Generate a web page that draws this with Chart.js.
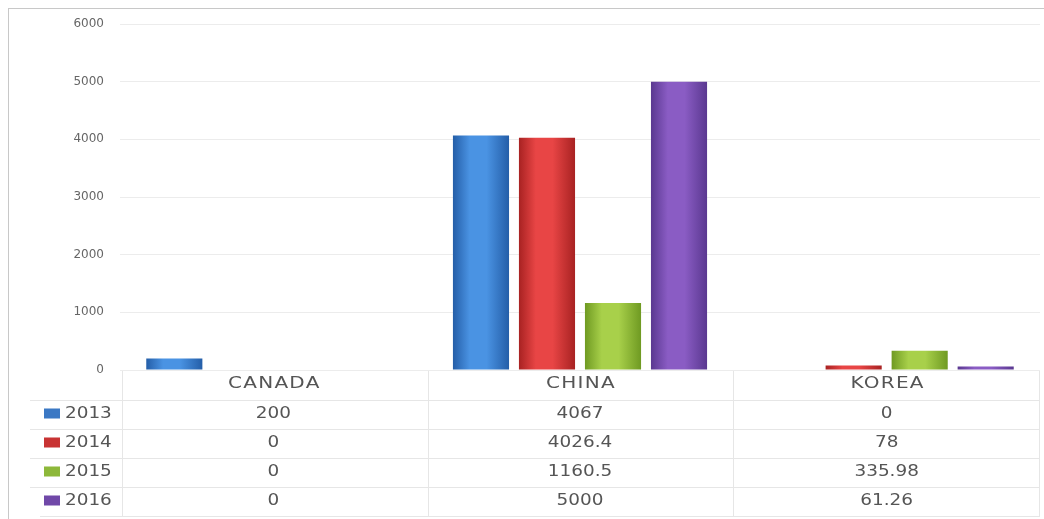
<!DOCTYPE html>
<html><head><meta charset="utf-8">
<script src="https://cdn.jsdelivr.net/npm/chart.js@4.4.0/dist/chart.umd.min.js"></script>
<style>html,body{margin:0;padding:0;background:#fff;}#wrap{width:1044px;height:519px;position:relative;}</style>
</head><body><div id="wrap"><canvas id="c" width="1044" height="519"></canvas></div>
<script>
const categories = ['CANADA', 'CHINA', 'KOREA'];
const seriesNames = ['2013', '2014', '2015', '2016'];
const v2013 = [200, 4067, 0];
const v2014 = [0, 4026.4, 78];
const v2015 = [0, 1160.5, 335.98];
const v2016 = [0, 5000, 61.26];
const tableText = [['200', '4067', '0'], ['0', '4026.4', '78'], ['0', '1160.5', '335.98'], ['0', '5000', '61.26']];
const seriesValues = [v2013, v2014, v2015, v2016];
const colors = [
  {mid: '#4a93e3', edge: '#245ea8', key: '#3b78c4'},
  {mid: '#e84545', edge: '#a82222', key: '#c83333'},
  {mid: '#a8d04a', edge: '#6f9a22', key: '#8db83a'},
  {mid: '#8a5cc4', edge: '#5a3890', key: '#7048a8'}
];
const CAT_PCT = 0.861, BAR_PCT = 0.85;

function barGradient(ctx) {
  const chart = ctx.chart;
  const x = chart.scales.x;
  const c = colors[ctx.datasetIndex];
  if (!x || !chart.chartArea) return c.mid;
  const cw = x.width / categories.length;
  const gw = cw * CAT_PCT;
  const slot = gw / seriesNames.length;
  const bw = slot * BAR_PCT;
  const center = x.getPixelForValue(ctx.dataIndex) - gw / 2 + (ctx.datasetIndex + 0.5) * slot;
  const g = chart.ctx.createLinearGradient(center - bw / 2, 0, center + bw / 2, 0);
  g.addColorStop(0, c.edge);
  g.addColorStop(0.3, c.mid);
  g.addColorStop(0.6, c.mid);
  g.addColorStop(1, c.edge);
  return g;
}

function stretchedText(ctx, text, x, y, sx) {
  ctx.save();
  ctx.translate(x, y);
  ctx.scale(sx, 1);
  ctx.fillText(text, 0, 0);
  ctx.restore();
}

const tablePlugin = {
  id: 'tablePlugin',
  afterDraw(chart) {
    const ctx = chart.ctx;
    const x = chart.scales.x;
    const area = chart.chartArea;
    const cw = x.width / categories.length;
    const top = area.bottom + 1;
    const headH = 29, rowH = 29;
    ctx.save();
    ctx.strokeStyle = '#c8c8c8';
    ctx.lineWidth = 1;
    ctx.beginPath();
    ctx.moveTo(8.5, 8); ctx.lineTo(8.5, 519);
    ctx.moveTo(8, 8.5); ctx.lineTo(1044, 8.5);
    ctx.stroke();
    ctx.strokeStyle = '#e6e6e6';
    ctx.beginPath();
    for (let i = 0; i <= categories.length; i++) {
      const xx = Math.round(area.left + 2 + i * (cw - 1)) + 0.5;
      ctx.moveTo(xx, top); ctx.lineTo(xx, top + headH + rowH * 4);
    }
    for (let r = 0; r <= 4; r++) {
      const yy = Math.round(top + headH + r * rowH) + 0.5;
      ctx.moveTo(r === 4 ? 40 : 30, yy); ctx.lineTo(area.right, yy);
    }
    ctx.stroke();
    ctx.textBaseline = 'middle';
    ctx.fillStyle = '#555';
    ctx.textAlign = 'center';
    ctx.font = '16px "DejaVu Sans"';
    ctx.letterSpacing = '1px';
    categories.forEach((cat, i) => {
      stretchedText(ctx, cat, x.getPixelForValue(i) + 1, top + 13, 1.25);
    });
    ctx.letterSpacing = '0px';
    seriesNames.forEach((name, r) => {
      const cy = top + headH + r * rowH + rowH / 2 - 1;
      ctx.fillStyle = colors[r].key;
      ctx.fillRect(44, cy - 5, 16, 10);
      ctx.fillStyle = '#555';
      ctx.textAlign = 'left';
      ctx.font = '16px "DejaVu Sans"';
      stretchedText(ctx, name, 65, cy, 1.15);
      ctx.textAlign = 'center';
      categories.forEach((cat, i) => {
        stretchedText(ctx, tableText[r][i], x.getPixelForValue(i), cy, 1.15);
      });
    });
    ctx.restore();
  }
};

new Chart(document.getElementById('c'), {
  type: 'bar',
  data: {
    labels: categories,
    datasets: seriesNames.map((n, i) => ({
      label: n,
      data: seriesValues[i],
      backgroundColor: barGradient,
      borderWidth: 0,
      categoryPercentage: CAT_PCT,
      barPercentage: BAR_PCT
    }))
  },
  options: {
    responsive: false,
    animation: false,
    devicePixelRatio: 1,
    layout: {padding: {top: 24, bottom: 149, right: 4, left: 8}},
    plugins: {legend: {display: false}, tooltip: {enabled: false}},
    scales: {
      x: {display: false},
      y: {
        min: 0, max: 6000,
        afterFit(s) { s.width = 112; },
        border: {display: false},
        grid: {color: '#ececec', drawTicks: false},
        ticks: {stepSize: 1000, padding: 16, color: '#666', font: {size: 12, family: 'DejaVu Sans'},
          callback: (v) => String(v)}
      }
    }
  },
  plugins: [tablePlugin]
});
</script></body></html>
